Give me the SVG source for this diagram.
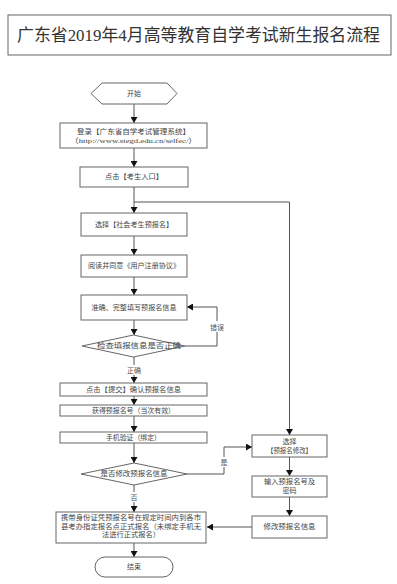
<svg xmlns="http://www.w3.org/2000/svg" width="397" height="584" viewBox="0 0 397 584">
<defs>
<marker id="arr" markerUnits="userSpaceOnUse" markerWidth="7" markerHeight="7" refX="6" refY="3.5" orient="auto">
<path d="M0,0 L6,3.5 L0,7 Z" fill="#111"/>
</marker>
<style>
.box{fill:#fff;stroke:#666;stroke-width:1}
.t{font-family:"Liberation Serif","Noto Sans CJK SC",serif;font-size:7px;fill:#444;text-anchor:middle;dominant-baseline:central}
.ln{fill:none;stroke:#555;stroke-width:1}
.lb{font-family:"Noto Sans CJK SC",sans-serif;font-size:7px;fill:#555;text-anchor:middle;dominant-baseline:central}
</style>
</defs>
<rect width="397" height="584" fill="#fff"/>
<g id="title">
<rect class="box" x="8" y="15" width="383" height="40"/>
<text x="17" y="35" textLength="363" lengthAdjust="spacingAndGlyphs" style="font-family:'Liberation Serif','Noto Sans CJK SC',serif;font-size:17.5px;fill:#333;dominant-baseline:central">广东省2019年4月高等教育自学考试新生报名流程</text>
</g>
<g id="connectors">
<path class="ln" d="M134,104 V123" marker-end="url(#arr)"/>
<path class="ln" d="M134,148 V167" marker-end="url(#arr)"/>
<path class="ln" d="M134,187 V213" marker-end="url(#arr)"/>
<path class="ln" d="M134,202 H289.5 V435" marker-end="url(#arr)"/>
<path class="ln" d="M134,236 V255" marker-end="url(#arr)"/>
<path class="ln" d="M134,277 V295" marker-end="url(#arr)"/>
<path class="ln" d="M134,320 V335" marker-end="url(#arr)"/>
<path class="ln" d="M134,357 V383" marker-end="url(#arr)"/>
<path class="ln" d="M185,346 H217 V307 H187" marker-end="url(#arr)"/>
<path class="ln" d="M134,396 V405" marker-end="url(#arr)"/>
<path class="ln" d="M134,416 V432" marker-end="url(#arr)"/>
<path class="ln" d="M134,443 V463" marker-end="url(#arr)"/>
<path class="ln" d="M134,485 V512" marker-end="url(#arr)"/>
<path class="ln" d="M187,474 H224 V447 H252" marker-end="url(#arr)"/>
<path class="ln" d="M289.5,457 V476" marker-end="url(#arr)"/>
<path class="ln" d="M289.5,497 V516" marker-end="url(#arr)"/>
<path class="ln" d="M252,527 H207" marker-end="url(#arr)"/>
<path class="ln" d="M134,543 V557" marker-end="url(#arr)"/>
<rect x="127" y="365" width="14" height="10" fill="#fff"/>
<text class="lb" x="134" y="370">正确</text>
<rect x="210" y="321" width="15" height="11" fill="#fff"/>
<text class="lb" x="217" y="327">错误</text>
<rect x="129" y="492" width="10" height="10" fill="#fff"/>
<text class="lb" x="134" y="497">否</text>
<rect x="219" y="457" width="10" height="10" fill="#fff"/>
<text class="lb" x="224" y="462">是</text>
</g>
<g id="start">
<polygon class="box" points="91,93.5 102,83 167,83 177,93.5 167,104 102,104"/>
<text class="t" x="134" y="93.5">开始</text>
</g>
<g id="login">
<rect class="box" x="60" y="123" width="147" height="25"/>
<text class="t" x="133.5" y="131.5" textLength="113" lengthAdjust="spacingAndGlyphs">登录【广东省自学考试管理系统】</text>
<text class="t" x="133.5" y="141" textLength="127" lengthAdjust="spacingAndGlyphs">（http://www.stegd.edu.cn/selfec/）</text>
</g>
<g id="entry">
<rect class="box" x="80" y="167" width="108" height="20"/>
<text class="t" x="134" y="177" textLength="58" lengthAdjust="spacingAndGlyphs">点击【考生入口】</text>
</g>
<g id="social">
<rect class="box" x="81" y="213" width="106" height="23"/>
<text class="t" x="134" y="224.5" textLength="78" lengthAdjust="spacingAndGlyphs">选择【社会考生预报名】</text>
</g>
<g id="agree">
<rect class="box" x="81" y="255" width="106" height="22"/>
<text class="t" x="134" y="266" textLength="92" lengthAdjust="spacingAndGlyphs">阅读并同意《用户注册协议》</text>
</g>
<g id="fill">
<rect class="box" x="81" y="295" width="106" height="25"/>
<text class="t" x="134" y="307.5" textLength="85" lengthAdjust="spacingAndGlyphs">准确、完整填写预报名信息</text>
</g>
<g id="check">
<polygon class="box" points="82,346 133.5,335 185,346 133.5,357"/>
<text class="t" x="139" y="346" textLength="84" lengthAdjust="spacingAndGlyphs">检查填报信息是否正确</text>
</g>
<g id="submit">
<rect class="box" x="60" y="383" width="147" height="13"/>
<text class="t" x="133.5" y="389.5" textLength="95" lengthAdjust="spacingAndGlyphs">点击【提交】确认预报名信息</text>
</g>
<g id="number">
<rect class="box" x="60" y="405" width="147" height="11"/>
<text class="t" x="133.5" y="410.5" textLength="83" lengthAdjust="spacingAndGlyphs">获得预报名号（当次有效）</text>
</g>
<g id="phone">
<rect class="box" x="60" y="432" width="147" height="11"/>
<text class="t" x="133.5" y="437.5" textLength="55" lengthAdjust="spacingAndGlyphs">手机验证（绑定）</text>
</g>
<g id="modify-q">
<polygon class="box" points="81,474 134,463 187,474 134,485"/>
<text class="t" x="134" y="474" textLength="67" lengthAdjust="spacingAndGlyphs">是否修改预报名信息</text>
</g>
<g id="select-modify">
<rect class="box" x="252" y="435" width="75" height="22"/>
<text class="t" x="289.5" y="442">选择</text>
<text class="t" x="289.5" y="451" textLength="45" lengthAdjust="spacingAndGlyphs">【预报名修改】</text>
</g>
<g id="input">
<rect class="box" x="252" y="476" width="75" height="21"/>
<text class="t" x="289.5" y="481.5" textLength="51" lengthAdjust="spacingAndGlyphs">输入预报名号及</text>
<text class="t" x="289.5" y="490.5">密码</text>
</g>
<g id="edit">
<rect class="box" x="252" y="516" width="75" height="22"/>
<text class="t" x="289.5" y="527" textLength="52" lengthAdjust="spacingAndGlyphs">修改预报名信息</text>
</g>
<g id="formal">
<rect class="box" x="56" y="512" width="150" height="31"/>
<text class="t" x="131" y="517.5" textLength="140" lengthAdjust="spacingAndGlyphs">携带身份证凭预报名号在规定时间内到各市</text>
<text class="t" x="131" y="526.5" textLength="140" lengthAdjust="spacingAndGlyphs">县考办指定报名点正式报名（未绑定手机无</text>
<text class="t" x="131" y="535" textLength="58" lengthAdjust="spacingAndGlyphs">法进行正式报名）</text>
</g>
<g id="end">
<rect class="box" x="95" y="557" width="78" height="20" rx="10" ry="10"/>
<text class="t" x="134" y="567">结束</text>
</g>
</svg>
